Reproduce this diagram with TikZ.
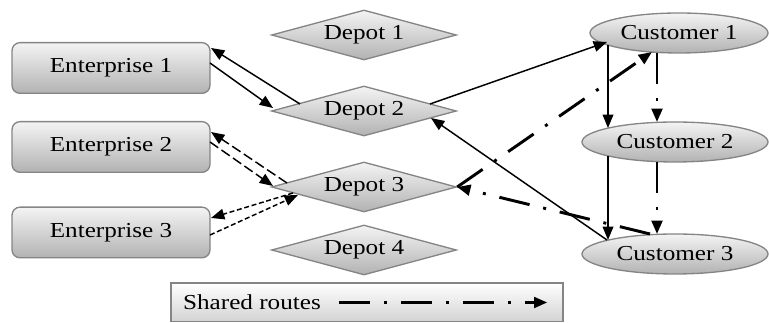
\documentclass[tikz,border=0pt]{standalone}
\usepackage{fontspec}
\setmainfont{Liberation Serif}
\usetikzlibrary{shapes.geometric,arrows.meta,calc}
\definecolor{boxborder}{HTML}{858585}
\definecolor{topgray}{HTML}{F4F4F4}
\definecolor{botgray}{HTML}{B2B2B2}
\newcommand{\sx}[1]{\scalebox{1.18}[1]{#1}}
\begin{document}
\begin{tikzpicture}[x=0.75pt,y=-0.75pt,
  shadedbox/.style={draw=boxborder, line width=1pt, top color=topgray, bottom color=botgray,
    font=\fontsize{16}{19}\selectfont, inner sep=0pt},
  ent/.style={shadedbox, rectangle, rounded corners=6pt, minimum width=148.5pt, minimum height=38pt},
  depot/.style={shadedbox, diamond, aspect=3.7, minimum width=138.75pt, minimum height=37.5pt},
  cust/.style={shadedbox, ellipse, minimum width=139.5pt, minimum height=30pt},
  legendbox/.style={draw=boxborder, line width=1pt, top color=white, bottom color=gray!35,
    rectangle, minimum width=294pt, minimum height=29pt, inner sep=0pt},
  tip/.style={-{Triangle[length=10pt,width=8pt]}},
  solidarrow/.style={tip, line width=1.1pt},
  dasharrow/.style={tip, line width=1.1pt, dash pattern=on 7.5pt off 3pt},
  shortdash/.style={tip, line width=1.1pt, dash pattern=on 3.75pt off 2pt},
  route/.style={tip, line width=2.2pt, dash pattern=on 23.25pt off 10.5pt on 2.25pt off 10.5pt}
]
\useasboundingbox (0,0) rectangle (769,323);

\node[ent] (e1) at (111,68) {\sx{Enterprise 1}};
\node[ent] (e2) at (111,147) {\sx{Enterprise 2}};
\node[ent] (e3) at (111,232.5) {\sx{Enterprise 3}};

\node[depot] (d1) at (364,35) {\sx{Depot 1}};
\node[depot] (d2) at (364,111) {\sx{Depot 2}};
\node[depot] (d3) at (364,187) {\sx{Depot 3}};
\node[depot] (d4) at (364,250) {\sx{Depot 4}};

\node[cust, minimum width=133.5pt] (c1) at (679,33) {\sx{Customer 1}};
\node[cust] (c2) at (675,142) {\sx{Customer 2}};
\node[cust] (c3) at (675,254) {\sx{Customer 3}};

\node[legendbox] (lg) at (367,302.5) {};
\node[font=\fontsize{16}{19}\selectfont, inner sep=0pt] (lt) at (252,302) {\sx{Shared routes}};
\coordinate (ls) at ($(lg.west)+(169,0)$);
\coordinate (le) at ($(lg.west)+(377,0)$);
\draw[route] (ls) -- (le);

% enterprise 1 <-> depot 2
\draw[solidarrow] ($(d2)+(-64,-7)$) -- ($(e1)+(100,-20)$);
\draw[solidarrow] ($(e1)+(99,-5)$) -- ($(d2)+(-91,-3)$);
% enterprise 2 <-> depot 3
\draw[dasharrow] ($(d3)+(-77,-4)$) -- ($(e2)+(100,-15)$);
\draw[dasharrow] ($(e2)+(99,-5)$) -- ($(d3)+(-91,-1)$);
% enterprise 3 <-> depot 3
\draw[shortdash] ($(d3)+(-71,6)$) -- ($(e3)+(100,-14.5)$);
\draw[shortdash] ($(e3)+(99,2.5)$) -- ($(d3)+(-66,8)$);

% depot 2 routes
\draw[solidarrow] ($(d2)+(66,-7)$) -- ($(c1)+(-72,9)$);
\draw[solidarrow] ($(c1)+(-71,12)$) -- ($(c2)+(-67,-14)$);
\draw[solidarrow] ($(c2)+(-67,14)$) -- ($(c3)+(-67,-14)$);
\draw[solidarrow] ($(c3)+(-68,-14)$) -- ($(d2)+(67,7)$);

% shared routes
\draw[route] (d3.east) -- ($(c1)+(-27,19)$);
\draw[route] ($(c1)+(-22,20)$) -- ($(c2)+(-18,-20)$);
\draw[route] ($(c2)+(-18,20)$) -- ($(c3)+(-18,-20)$);
\draw[route] ($(c3)+(-25,-20)$) -- (d3.east);
\end{tikzpicture}
\end{document}
